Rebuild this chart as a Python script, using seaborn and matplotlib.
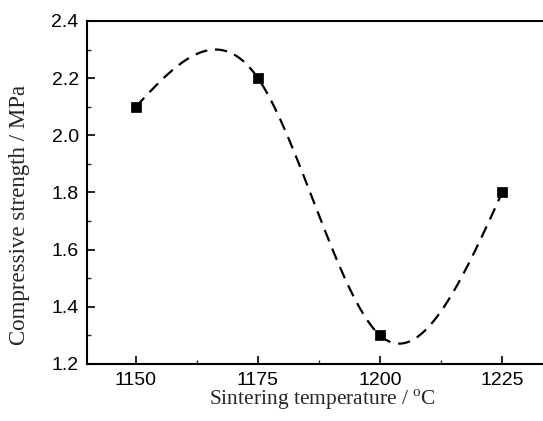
import numpy as np
import pandas as pd
import matplotlib
matplotlib.use("Agg")
import matplotlib.pyplot as plt
import seaborn as sns
from matplotlib.ticker import MultipleLocator

temperature = [1150, 1175, 1200, 1225]
strength = [2.1, 2.2, 1.3, 1.8]

sns.set_theme(style="ticks")
plt.rcParams['font.family'] = ['Liberation Sans', 'DejaVu Sans']
plt.rcParams['mathtext.fontset'] = 'custom'
plt.rcParams['mathtext.rm'] = 'Liberation Serif'


def natural_spline(x, y, n=300):
    x = np.asarray(x, float)
    y = np.asarray(y, float)
    k = len(x)
    h = np.diff(x)
    A = np.zeros((k, k))
    b = np.zeros(k)
    A[0, 0] = A[-1, -1] = 1
    for i in range(1, k - 1):
        A[i, i - 1] = h[i - 1]
        A[i, i] = 2 * (h[i - 1] + h[i])
        A[i, i + 1] = h[i]
        b[i] = 6 * ((y[i + 1] - y[i]) / h[i] - (y[i] - y[i - 1]) / h[i - 1])
    M = np.linalg.solve(A, b)
    xs = np.linspace(x[0], x[-1], n)
    ys = np.empty_like(xs)
    for j, xv in enumerate(xs):
        i = min(np.searchsorted(x, xv, side='right') - 1, k - 2)
        t1 = x[i + 1] - xv
        t0 = xv - x[i]
        ys[j] = (M[i] * t1 ** 3 / (6 * h[i]) + M[i + 1] * t0 ** 3 / (6 * h[i])
                 + (y[i] / h[i] - M[i] * h[i] / 6) * t1
                 + (y[i + 1] / h[i] - M[i + 1] * h[i] / 6) * t0)
    return xs, ys


xs, ys = natural_spline(temperature, strength)
curve = pd.DataFrame({"x": xs, "y": ys})
points = pd.DataFrame({"x": temperature, "y": strength})

fig = plt.figure(figsize=(5.43, 4.21), dpi=100)
ax = fig.add_axes([87 / 543, 57 / 421, 464 / 543, 343 / 421])

sns.lineplot(data=curve, x="x", y="y", ax=ax, color="black", lw=1.6,
             linestyle=(0, (5.5, 3.5)))
sns.scatterplot(data=points, x="x", y="y", ax=ax, marker="s", s=42,
                color="black", edgecolor="black", zorder=3)

ax.set_xlim(1140, 1235)
ax.set_ylim(1.2, 2.4)
ax.xaxis.set_major_locator(MultipleLocator(25))
ax.xaxis.set_minor_locator(MultipleLocator(12.5))
ax.yaxis.set_major_locator(MultipleLocator(0.2))
ax.yaxis.set_minor_locator(MultipleLocator(0.1))
ax.yaxis.set_major_formatter(matplotlib.ticker.FormatStrFormatter('%.1f'))

ax.tick_params(which='major', direction='in', length=6, width=1.2,
               labelsize=14, pad=6, colors='black')
ax.tick_params(which='minor', direction='in', length=3, width=1.0)
for sp in ax.spines.values():
    sp.set_linewidth(1.5)
    sp.set_color('black')

ax.set_xlabel("Sintering temperature / $^{\\mathrm{o}}$C", family='Liberation Serif',
              fontsize=15.5)
ax.set_ylabel("Compressive strength / MPa", family='Liberation Serif',
              fontsize=16.5)
ax.xaxis.set_label_coords((323 - 87) / 464, (364 - 400) / 343)
ax.yaxis.set_label_coords((20 - 87) / 464, (364 - 215) / 343)
ax.xaxis.label.set_va('center')
ax.yaxis.label.set_va('center')

fig.savefig("out.png", dpi=100)
